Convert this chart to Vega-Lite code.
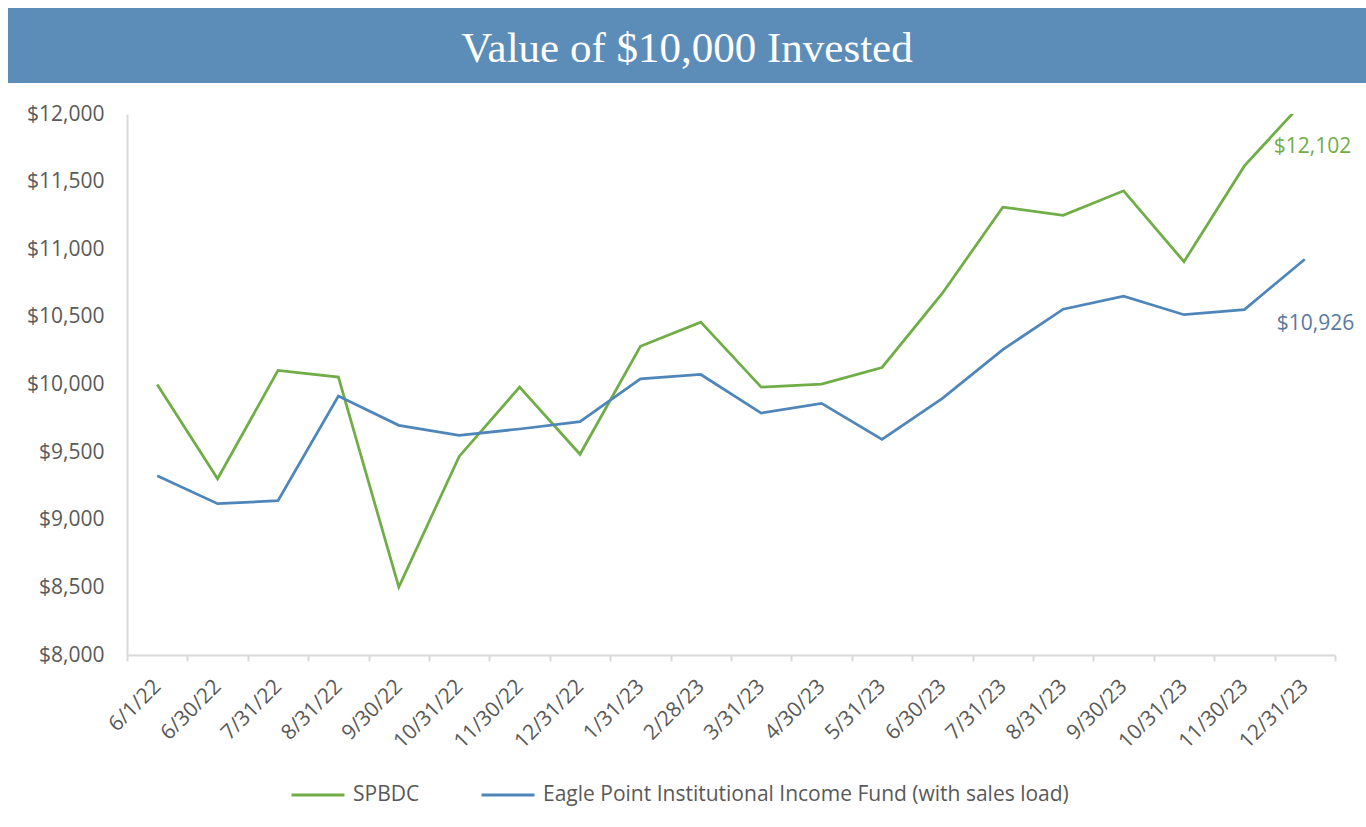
{
  "$schema": "https://vega.github.io/schema/vega-lite/v6.json",
  "padding": {"left": 8, "top": 8, "right": 0, "bottom": 20},
  "background": "white",
  "spacing": 20,
  "config": {
    "font": "Open Sans",
    "view": {"stroke": null}
  },
  "vconcat": [
    {
      "width": 1239,
      "height": 75,
      "view": {"fill": "#5B8DB8", "stroke": null},
      "data": {"values": [{"title": "Value of $10,000 Invested"}]},
      "mark": {"type": "text", "font": "Liberation Serif", "fontSize": 43, "color": "white", "baseline": "alphabetic", "dy": 16, "dx": -59.5},
      "encoding": {
        "text": {"field": "title", "type": "nominal"},
        "y": {
          "datum": 0.5,
          "type": "quantitative",
          "scale": {"domain": [0, 1]},
          "axis": {"title": null, "labels": false, "ticks": false, "grid": false, "domainColor": "#5B8DB8", "domainWidth": 238, "domainCap": "butt", "translate": 0}
        }
      }
    },
    {
      "width": 1208,
      "height": 541,
      "data": {
        "values": [
          {"date": "6/1/22", "series": "SPBDC", "value": 10000},
          {"date": "6/30/22", "series": "SPBDC", "value": 9303},
          {"date": "7/31/22", "series": "SPBDC", "value": 10104},
          {"date": "8/31/22", "series": "SPBDC", "value": 10055},
          {"date": "9/30/22", "series": "SPBDC", "value": 8502},
          {"date": "10/31/22", "series": "SPBDC", "value": 9468},
          {"date": "11/30/22", "series": "SPBDC", "value": 9981},
          {"date": "12/31/22", "series": "SPBDC", "value": 9484},
          {"date": "1/31/23", "series": "SPBDC", "value": 10283},
          {"date": "2/28/23", "series": "SPBDC", "value": 10461},
          {"date": "3/31/23", "series": "SPBDC", "value": 9981},
          {"date": "4/30/23", "series": "SPBDC", "value": 10003},
          {"date": "5/31/23", "series": "SPBDC", "value": 10126},
          {"date": "6/30/23", "series": "SPBDC", "value": 10675},
          {"date": "7/31/23", "series": "SPBDC", "value": 11311},
          {"date": "8/31/23", "series": "SPBDC", "value": 11251},
          {"date": "9/30/23", "series": "SPBDC", "value": 11432},
          {"date": "10/31/23", "series": "SPBDC", "value": 10908},
          {"date": "11/30/23", "series": "SPBDC", "value": 11616},
          {"date": "12/31/23", "series": "SPBDC", "value": 12102},
          {"date": "6/1/22", "series": "Eagle Point Institutional Income Fund (with sales load)", "value": 9325},
          {"date": "6/30/22", "series": "Eagle Point Institutional Income Fund (with sales load)", "value": 9119},
          {"date": "7/31/22", "series": "Eagle Point Institutional Income Fund (with sales load)", "value": 9141},
          {"date": "8/31/22", "series": "Eagle Point Institutional Income Fund (with sales load)", "value": 9915},
          {"date": "9/30/22", "series": "Eagle Point Institutional Income Fund (with sales load)", "value": 9698},
          {"date": "10/31/22", "series": "Eagle Point Institutional Income Fund (with sales load)", "value": 9624},
          {"date": "11/30/22", "series": "Eagle Point Institutional Income Fund (with sales load)", "value": 9671},
          {"date": "12/31/22", "series": "Eagle Point Institutional Income Fund (with sales load)", "value": 9726},
          {"date": "1/31/23", "series": "Eagle Point Institutional Income Fund (with sales load)", "value": 10041},
          {"date": "2/28/23", "series": "Eagle Point Institutional Income Fund (with sales load)", "value": 10074},
          {"date": "3/31/23", "series": "Eagle Point Institutional Income Fund (with sales load)", "value": 9789},
          {"date": "4/30/23", "series": "Eagle Point Institutional Income Fund (with sales load)", "value": 9860},
          {"date": "5/31/23", "series": "Eagle Point Institutional Income Fund (with sales load)", "value": 9594},
          {"date": "6/30/23", "series": "Eagle Point Institutional Income Fund (with sales load)", "value": 9898},
          {"date": "7/31/23", "series": "Eagle Point Institutional Income Fund (with sales load)", "value": 10258},
          {"date": "8/31/23", "series": "Eagle Point Institutional Income Fund (with sales load)", "value": 10557},
          {"date": "9/30/23", "series": "Eagle Point Institutional Income Fund (with sales load)", "value": 10653},
          {"date": "10/31/23", "series": "Eagle Point Institutional Income Fund (with sales load)", "value": 10516},
          {"date": "11/30/23", "series": "Eagle Point Institutional Income Fund (with sales load)", "value": 10554},
          {"date": "12/31/23", "series": "Eagle Point Institutional Income Fund (with sales load)", "value": 10926}
        ]
      },
      "encoding": {
        "x": {
          "field": "date",
          "type": "ordinal",
          "bandPosition": 0.5,
          "scale": {
            "type": "band",
            "paddingInner": 0,
            "paddingOuter": 0,
            "domain": ["6/1/22", "6/30/22", "7/31/22", "8/31/22", "9/30/22", "10/31/22", "11/30/22", "12/31/22", "1/31/23", "2/28/23", "3/31/23", "4/30/23", "5/31/23", "6/30/23", "7/31/23", "8/31/23", "9/30/23", "10/31/23", "11/30/23", "12/31/23"]
          },
          "axis": {
            "title": null,
            "labelAngle": -45,
            "labelAlign": "right",
            "labelBaseline": "middle",
            "labelFontSize": 21,
            "labelColor": "#595959",
            "labelPadding": 22,
            "domainColor": "#D9D9D9",
            "domainWidth": 2,
            "tickColor": "#D9D9D9",
            "tickWidth": 2,
            "tickSize": 6,
            "tickBand": "extent",
            "grid": false
          }
        },
        "y": {
          "field": "value",
          "type": "quantitative",
          "scale": {"domain": [8000, 12000], "nice": false, "zero": false},
          "axis": {
            "title": null,
            "values": [8000, 8500, 9000, 9500, 10000, 10500, 11000, 11500, 12000],
            "format": "$,.0f",
            "labelFontSize": 21,
            "labelColor": "#595959",
            "labelPadding": 23,
            "ticks": false,
            "tickSize": 0,
            "domainColor": "#D9D9D9",
            "domainWidth": 2,
            "grid": false,
            "minExtent": 119
          }
        }
      },
      "layer": [
        {
          "mark": {"type": "line", "strokeWidth": 2.75, "clip": true},
          "encoding": {
            "color": {
              "field": "series",
              "type": "nominal",
              "scale": {
                "domain": ["SPBDC", "Eagle Point Institutional Income Fund (with sales load)"],
                "range": ["#70AD47", "#4F86BA"]
              },
              "legend": {
                "title": null,
                "orient": "none",
                "legendX": 163,
                "legendY": 759,
                "direction": "horizontal",
                "symbolType": "stroke",
                "symbolSize": 2809,
                "symbolStrokeWidth": 3,
                "labelFontSize": 21,
                "labelColor": "#595959",
                "labelOffset": 7,
                "labelLimit": 1000,
                "columnPadding": 55,
                "padding": 0
              }
            }
          }
        },
        {
          "transform": [{"filter": "datum.series == 'SPBDC' && datum.date == '12/31/23'"}],
          "mark": {"type": "text", "align": "left", "baseline": "middle", "dx": -31, "dy": 47, "fontSize": 21, "color": "#70AD47"},
          "encoding": {"text": {"field": "value", "type": "quantitative", "format": "$,.0f"}}
        },
        {
          "transform": [{"filter": "datum.series != 'SPBDC' && datum.date == '12/31/23'"}],
          "mark": {"type": "text", "align": "left", "baseline": "middle", "dx": -28, "dy": 65, "fontSize": 21, "color": "#5A78A0"},
          "encoding": {"text": {"field": "value", "type": "quantitative", "format": "$,.0f"}}
        }
      ]
    }
  ]
}
